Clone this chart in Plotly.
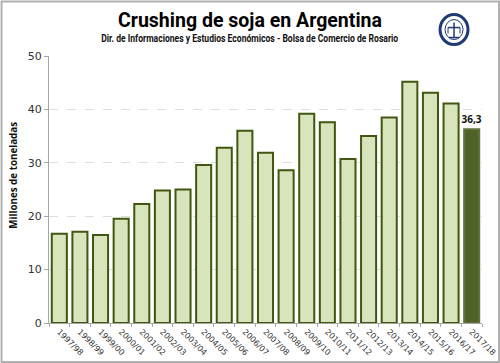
import plotly.graph_objects as go

campaigns = ["1997/98","1998/99","1999/00","2000/01","2001/02","2002/03","2003/04","2004/05","2005/06","2006/07","2007/08","2008/09","2009/10","2010/11","2011/12","2012/13","2013/14","2014/15","2015/16","2016/17","2017/18"]
crushing = [16.7,17.1,16.5,19.5,22.3,24.8,25.0,29.6,32.8,36.0,31.9,28.6,39.2,37.6,30.7,35.0,38.5,45.2,43.1,41.1,36.3]
labels = [""]*20 + ["36,3"]
title = "Crushing de soja en Argentina"
subtitle = "Dir. de Informaciones y Estudios Económicos - Bolsa de Comercio de Rosario"
y_title = "Millones de toneladas"

W, H = 500, 363
L, R, T, B = 48.5, 482, 55.5, 323
fills = ["#d8e4bc"]*20 + ["#4f6228"]
lines = ["#41570f"]*20 + ["#5f7238"]
NAVY = "#1f3a73"

fig = go.Figure(go.Bar(
    x=campaigns, y=crushing, text=labels, textposition="outside", cliponaxis=False, constraintext="none",
    textfont=dict(family="Open Sans", size=10, color="#111111", weight="bold"),
    marker=dict(color=fills, line=dict(color=lines, width=2)),
    hoverinfo="skip"))

def px(x): return (x - L) / (R - L)
def py(y): return (B - y) / (B - T)

def note(text, x, y, font, **kw):
    return dict(text=text, x=px(x), y=py(y), xref="paper", yref="paper", showarrow=False,
                xanchor="center", yanchor="middle", font=font, **kw)

def ring(x0, x1, y0, y1, width):
    return dict(type="circle", xref="paper", yref="paper", x0=px(x0), x1=px(x1), y0=py(y1), y1=py(y0),
                line=dict(color=NAVY, width=width), fillcolor="rgba(0,0,0,0)")

def seg(x0, y0, x1, y1, width=1.5):
    return dict(type="line", xref="paper", yref="paper", x0=px(x0), x1=px(x1), y0=py(y0), y1=py(y1),
                line=dict(color=NAVY, width=width))

fig.update_layout(
    width=W, height=H, autosize=False, showlegend=False,
    paper_bgcolor="white", plot_bgcolor="white", bargap=0.27,
    margin=dict(l=L, r=W-R, t=T, b=H-B, autoexpand=False),
    xaxis=dict(type="category", tickson="boundaries", tickangle=45, ticks="outside", ticklen=3, automargin=False,
               tickcolor="#a6a6a6", linecolor="#a6a6a6", linewidth=1, showgrid=False,
               tickfont=dict(family="DejaVu Sans", size=8, color="#333333")),
    yaxis=dict(range=[0, 50], tick0=0, dtick=10, ticks="outside", ticklen=4, tickcolor="#a6a6a6", automargin=False,
               linecolor="#a6a6a6", linewidth=1, showline=True, zeroline=False,
               gridcolor="#dedede", griddash="dash", gridwidth=1,
               tickfont=dict(family="DejaVu Sans", size=11, color="#333333")),
    annotations=[
        note(title, 250, 19, dict(family="Roboto", size=21, color="#000000", weight="bold")),
        note(subtitle, 250, 37.5, dict(family="Roboto", size=10.5, color="#111111", weight="bold")),
        note(y_title, 13, 175, dict(family="Open Sans", size=9.8, color="#111111", weight="bold"), textangle=-90),
    ],
    shapes=[
        dict(type="rect", xref="paper", yref="paper", x0=px(1), x1=px(W-1), y0=py(H-1), y1=py(1),
             line=dict(color="#b0b0b0", width=2), fillcolor="rgba(0,0,0,0)", layer="above"),
        ring(440, 468, 14, 44, 3),
        ring(445, 463, 19, 39, 1),
        seg(454, 22, 454, 37), seg(448, 27, 460, 27), seg(449, 37, 459, 37),
        seg(448, 27, 448, 33, 1), seg(460, 27, 460, 33, 1),
    ],
)
post = """
document.body.style.margin='0';
document.querySelectorAll('.annotation-text').forEach(function(t){
  var s=t.textContent; var w=0;
  if(s.indexOf('Crushing')===0) w=264;
  if(s.indexOf('Dir.')===0) w=297;
  if(w){ t.setAttribute('textLength',w); t.setAttribute('lengthAdjust','spacingAndGlyphs'); }
});
"""
fig.write_html("out.html", config=dict(displayModeBar=False), post_script=post)
